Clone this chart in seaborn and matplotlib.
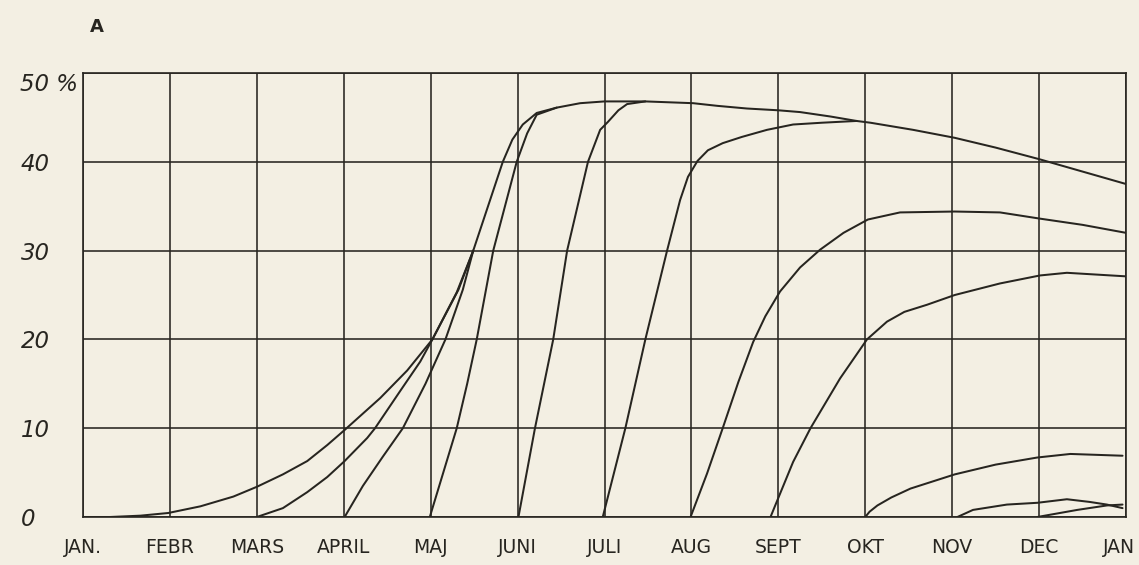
import matplotlib
matplotlib.use("Agg")
import matplotlib.pyplot as plt
import matplotlib.transforms as mtransforms
import numpy as np
import pandas as pd
import seaborn as sns

# Month axis (0 = January, 12 = January of the following year)
months = ["JAN.", "FEBR", "MARS", "APRIL", "MAJ", "JUNI", "JULI",
          "AUG", "SEPT", "OKT", "NOV", "DEC", "JAN"]
pct_ticks = [0, 10, 20, 30, 40, 50]
pct_labels = ["0", "10", "20", "30", "40", "50 %"]

# One curve per starting month: time in months, cumulative percentage
jan_t = [0.0, 0.31, 0.66, 0.98, 1.35, 1.73, 2.0, 2.30, 2.58, 2.81, 3.01, 3.42,
         3.73, 4.02, 4.32, 4.49, 4.66, 4.83, 4.94, 5.06, 5.22, 5.45, 5.72, 6.0,
         6.47, 7.02, 7.30, 7.64, 8.0, 8.25, 8.6, 8.9, 9.06, 9.55, 10.03, 10.5,
         11.0, 11.5, 12.0]
jan_v = [0.0, 0.0, 0.15, 0.45, 1.2, 2.3, 3.4, 4.8, 6.3, 8.1, 9.8, 13.4,
         16.5, 20.0, 25.6, 30.0, 35.0, 40.0, 42.5, 44.2, 45.5, 46.1, 46.6, 46.8,
         46.8, 46.6, 46.3, 46.0, 45.8, 45.6, 45.1, 44.6, 44.4, 43.6, 42.7, 41.6,
         40.3, 38.9, 37.5]

mar_t = [2.0, 2.30, 2.58, 2.81, 3.01, 3.27, 3.36, 3.65, 3.88, 4.02, 4.30, 4.49]
mar_v = [0.0, 1.0, 2.8, 4.5, 6.3, 8.9, 10.0, 14.2, 17.5, 20.0, 25.3, 30.0]

apr_t = [3.01, 3.22, 3.45, 3.68, 3.94, 4.17, 4.37, 4.49]
apr_v = [0.0, 3.5, 6.8, 10.0, 15.0, 20.0, 25.6, 30.0]

maj_t = [3.99, 4.30, 4.42, 4.53, 4.72, 4.99, 5.11, 5.22, 5.45]
maj_v = [0.0, 10.0, 15.0, 20.0, 30.0, 40.0, 43.2, 45.3, 46.1]

jun_t = [5.01, 5.20, 5.41, 5.57, 5.81, 5.95, 6.04, 6.16, 6.26, 6.47]
jun_v = [0.0, 10.0, 20.0, 30.0, 40.0, 43.6, 44.5, 45.8, 46.5, 46.8]

jul_t = [5.98, 6.24, 6.47, 6.72, 6.87, 6.96, 7.07, 7.19, 7.36, 7.58, 7.87,
         8.17, 8.5, 8.9]
jul_v = [0.0, 10.0, 20.0, 30.0, 35.7, 38.3, 40.1, 41.3, 42.1, 42.8, 43.6,
         44.2, 44.4, 44.6]

aug_t = [6.99, 7.18, 7.36, 7.54, 7.71, 7.85, 8.02, 8.25, 8.48, 8.75, 9.03,
         9.40, 10.03, 10.55, 11.01, 11.5, 12.0]
aug_v = [0.0, 4.9, 10.0, 15.2, 19.7, 22.6, 25.4, 28.1, 30.1, 32.0, 33.5,
         34.3, 34.4, 34.3, 33.6, 32.9, 32.0]

sep_t = [7.91, 7.96, 8.17, 8.37, 8.71, 9.02, 9.25, 9.45, 9.71, 10.03, 10.55,
         11.01, 11.32, 12.0]
sep_v = [0.0, 1.2, 6.2, 10.0, 15.6, 20.0, 22.0, 23.1, 23.9, 25.0, 26.3,
         27.2, 27.5, 27.1]

okt_t = [9.0, 9.05, 9.14, 9.30, 9.52, 10.03, 10.5, 10.98, 11.36, 11.96]
okt_v = [0.0, 0.6, 1.3, 2.2, 3.2, 4.8, 5.9, 6.7, 7.1, 6.9]

nov_t = [10.06, 10.24, 10.63, 10.98, 11.32, 11.58, 11.78, 11.96]
nov_v = [0.0, 0.8, 1.4, 1.6, 2.0, 1.7, 1.4, 1.0]

dec_t = [10.98, 11.44, 11.78, 11.96]
dec_v = [0.0, 0.8, 1.3, 1.4]

series = {
    "jan": (jan_t, jan_v), "mar": (mar_t, mar_v), "apr": (apr_t, apr_v),
    "maj": (maj_t, maj_v), "jun": (jun_t, jun_v), "jul": (jul_t, jul_v),
    "aug": (aug_t, aug_v), "sep": (sep_t, sep_v), "okt": (okt_t, okt_v),
    "nov": (nov_t, nov_v), "dec": (dec_t, dec_v),
}
frames = [pd.DataFrame({"month": t, "pct": v, "start": name})
          for name, (t, v) in series.items()]
df = pd.concat(frames, ignore_index=True)

paper = "#f3efe3"
ink = "#272520"

sns.set_style("white", {"axes.facecolor": paper, "figure.facecolor": paper})
plt.rcParams["font.family"] = ["DejaVu Sans"]

fig = plt.figure(figsize=(11.39, 5.65), dpi=100)
fig.patch.set_facecolor(paper)
ax = fig.add_axes([83 / 1139, 48 / 565, (1126 - 83) / 1139, (517 - 73) / 565])
ax.set_facecolor(paper)

sns.lineplot(data=df, x="month", y="pct", units="start", estimator=None,
             sort=False, color=ink, linewidth=1.45, legend=False, ax=ax,
             solid_joinstyle="round", solid_capstyle="round")

ax.set_xlim(0, 12)
ax.set_ylim(0, 50)
ax.set_xticks(range(len(months)))
ax.set_xticklabels(months, fontsize=13.5, color=ink)
ax.set_yticks(pct_ticks)
ax.set_yticklabels(pct_labels, fontsize=16.5, color=ink, style="oblique")
ax.tick_params(axis="x", length=0, pad=15)
ax.tick_params(axis="y", length=0, pad=45)
for lab in ax.get_yticklabels():
    lab.set_horizontalalignment("left")
ax.get_yticklabels()[-1].set_verticalalignment("top")

# keep the closing month label inside the figure
last = ax.get_xticklabels()[-1]
last.set_transform(last.get_transform() +
                   mtransforms.ScaledTranslation(-0.07, 0, fig.dpi_scale_trans))

ax.grid(True, color=ink, linewidth=1.15)
ax.set_axisbelow(True)
for side in ["left", "right", "top", "bottom"]:
    ax.spines[side].set_visible(True)
    ax.spines[side].set_color(ink)
    ax.spines[side].set_linewidth(1.2)
ax.set_xlabel("")
ax.set_ylabel("")

fig.text(97 / 1139, 1 - 27 / 565, "A", fontsize=13, fontweight="bold",
         color=ink, ha="center", va="center")

fig.savefig("out.png", dpi=100, facecolor=paper)
